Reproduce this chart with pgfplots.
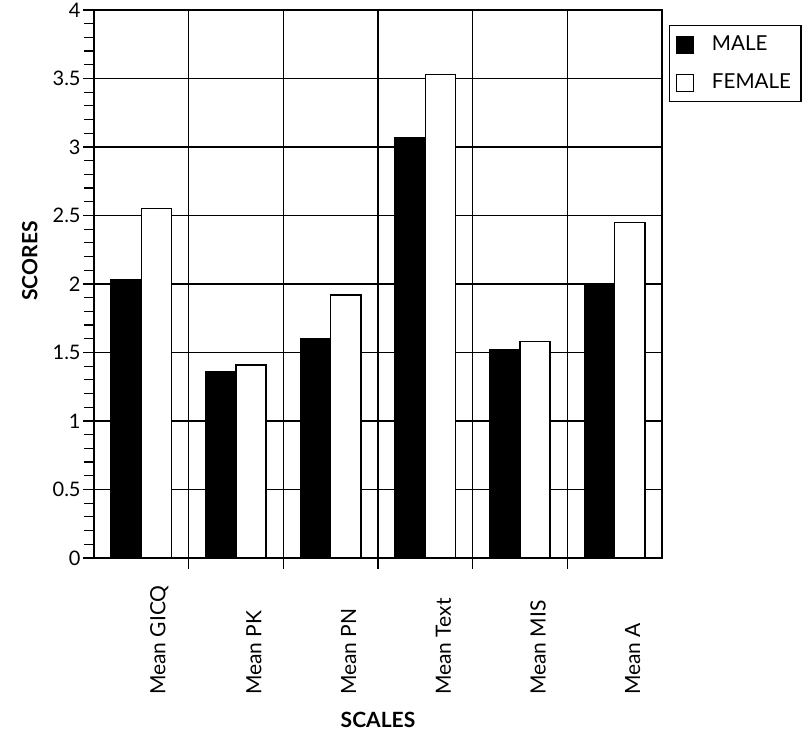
\documentclass[border=0pt]{standalone}
\usepackage{fontspec}
\setmainfont{Lato}
\usepackage{pgfplots}
\pgfplotsset{compat=1.18}
\pgfplotsset{boxlegend/.style={legend image code/.code={%
	\draw[##1, line width=0.6pt] (2.5pt,-4.5pt) rectangle (11pt,4pt);
	\path (18pt,0pt);}}}
\begin{document}
\begin{tikzpicture}[x=1pt,y=1pt]
\useasboundingbox (-47,-89.5) rectangle (358.5,279);
\begin{axis}[
	at={(0,0)}, anchor=south west,
	scale only axis, width=284pt, height=274pt,
	xmin=-0.5, xmax=5.5, ymin=0, ymax=4,
	ybar=0pt, bar width=0.32,
	ytick={0,0.5,...,4},
	yticklabels={0,0.5,1,1.5,2,2.5,3,3.5,4},
	minor y tick num=4,
	xtick={0.5,1.5,2.5,3.5,4.5}, xticklabels={},
	extra x ticks={0,1,2,3,4,5},
	extra x tick labels={Mean GICQ,Mean PK,Mean PN,Mean Text,Mean MIS,Mean A},
	extra x tick style={major tick length=0pt, grid=none,
		xticklabel style={rotate=90, anchor=west, xshift=-72pt, yshift=-9pt,
		font=\fontsize{10.5}{12}\selectfont}},
	xmajorgrids, ymajorgrids,
	grid style={black, line width=0.6pt},
	axis line style={black, line width=0.8pt},
	tick style={black, line width=0.6pt},
	tick align=outside, xtick pos=bottom, ytick pos=left,
	major tick length=5.5pt, minor tick length=5pt,
	ticklabel style={font=\fontsize{10}{12}\selectfont},
	yticklabel style={inner sep=1pt},
	ylabel={\textbf{SCORES}},
	ylabel style={at={(axis description cs:-0.113,0.542)}, anchor=center, font=\fontsize{10.5}{12}\selectfont},
	xlabel={\textbf{SCALES}},
	xlabel style={at={(axis description cs:0.5,-0.296)}, anchor=center, font=\fontsize{10.5}{12}\selectfont},
	legend style={at={(rel axis cs:1,1)}, anchor=north west, xshift=3.5pt, yshift=-7.5pt,
		draw=black, line width=0.6pt, font=\fontsize{10.3}{12}\selectfont,
		row sep=6pt, inner xsep=3pt, inner ysep=3pt},
	legend cell align=left,
	boxlegend,
]
\addplot[fill=black, draw=black, line width=0.6pt]
	coordinates {(0,2.03) (1,1.36) (2,1.60) (3,3.07) (4,1.52) (5,2.00)};
\addlegendentry{MALE}
\addplot[fill=white, draw=black, line width=0.8pt]
	coordinates {(0,2.55) (1,1.41) (2,1.92) (3,3.53) (4,1.58) (5,2.45)};
\addlegendentry{FEMALE\hspace{24pt}}
\end{axis}
\end{tikzpicture}
\end{document}
